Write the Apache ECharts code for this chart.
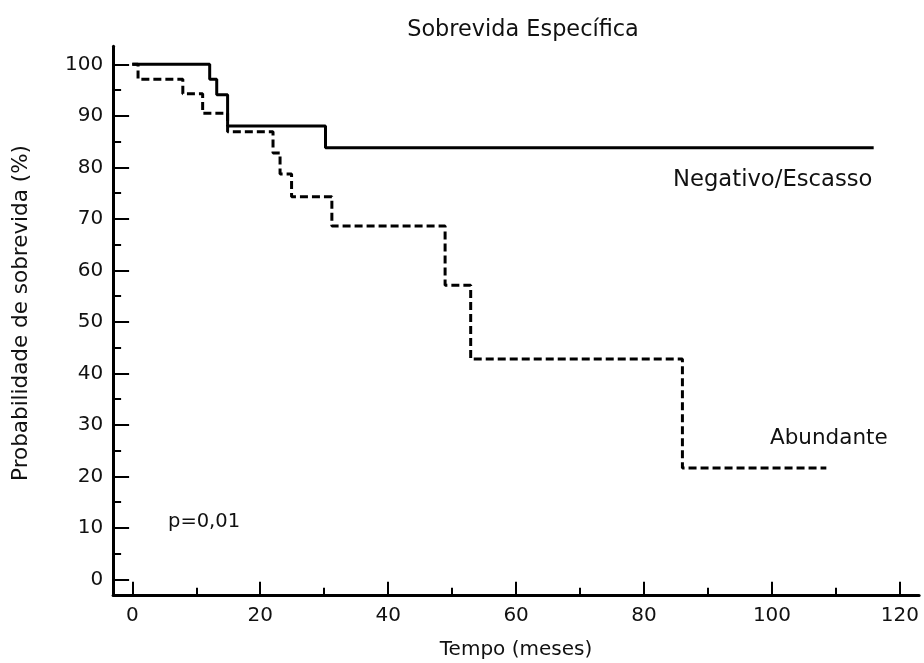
<!DOCTYPE html>
<html>
<head>
<meta charset="utf-8">
<script src="https://cdn.jsdelivr.net/npm/echarts@6/dist/echarts.min.js"></script>
<style>
html,body{margin:0;padding:0;background:#fff;}
#chart{width:924px;height:663px;}
</style>
</head>
<body>
<div id="chart"></div>
<script>
// ---- data ----
var negTimes   = [0, 12.1, 13.2, 14.9, 30.2, 115.9];
var negValues  = [100, 97.1, 94.1, 88.0, 83.8, 83.8];
var abuTimes   = [0, 0.9, 7.9, 11.0, 14.9, 22.0, 23.1, 24.9, 31.2, 48.9, 52.9, 86.0, 108.5];
var abuValues  = [100, 97.1, 94.3, 90.5, 86.9, 82.8, 78.7, 74.3, 68.6, 57.1, 42.8, 21.6, 21.6];
var xTickLabels = [0, 20, 40, 60, 80, 100, 120];
var xMinorTicks = [10, 30, 50, 70, 90, 110];
var yTickLabels = [0, 10, 20, 30, 40, 50, 60, 70, 80, 90, 100];
var yMinorTicks = [5, 15, 25, 35, 45, 55, 65, 75, 85, 95];
var titleText = 'Sobrevida Específica';
var xName = 'Tempo (meses)';
var yName = 'Probabilidade de sobrevida (%)';
var negLabel = 'Negativo/Escasso';
var abuLabel = 'Abundante';
var pLabel = 'p=0,01';

function pairs(t, v) { return t.map(function (x, i) { return [x, v[i]]; }); }

var FONT = 'DejaVu Sans';
var TXT = '#111';
var chart = echarts.init(document.getElementById('chart'));

var option = {
  backgroundColor: '#fff',
  animation: false,
  grid: { left: 113.1, right: 4.9, top: 46.3, bottom: 68.25, containLabel: false },
  xAxis: [{
    type: 'value', min: -3, max: 123, position: 'bottom',
    axisLine: { show: true, onZero: false, lineStyle: { color: '#000', width: 3 } },
    axisTick: { show: true, inside: true, length: 13, lineStyle: { color: '#000', width: 2 }, customValues: xTickLabels },
    axisLabel: { show: true, customValues: xTickLabels, fontSize: 20, fontFamily: FONT, color: TXT, margin: 11 },
    splitLine: { show: false }
  }, {
    type: 'value', min: -3, max: 123, position: 'bottom', offset: 0,
    axisLine: { show: false, onZero: false },
    axisTick: { show: true, inside: true, length: 7, lineStyle: { color: '#000', width: 2 }, customValues: xMinorTicks },
    axisLabel: { show: false },
    splitLine: { show: false }
  }],
  yAxis: [{
    type: 'value', min: -3, max: 103.5, position: 'left',
    axisLine: { show: true, onZero: false, lineStyle: { color: '#000', width: 3 } },
    axisTick: { show: true, inside: true, length: 16, lineStyle: { color: '#000', width: 2 }, customValues: yTickLabels },
    axisLabel: { show: true, customValues: yTickLabels, fontSize: 20, fontFamily: FONT, color: TXT, margin: 10 },
    splitLine: { show: false }
  }, {
    type: 'value', min: -3, max: 103.5, position: 'left', offset: 0,
    axisLine: { show: false, onZero: false },
    axisTick: { show: true, inside: true, length: 8, lineStyle: { color: '#000', width: 2 }, customValues: yMinorTicks },
    axisLabel: { show: false },
    splitLine: { show: false }
  }],
  series: [{
    name: negLabel, type: 'line', step: 'end', xAxisIndex: 0, yAxisIndex: 0,
    data: pairs(negTimes, negValues), symbol: 'none',
    lineStyle: { color: '#000', width: 3 }
  }, {
    name: abuLabel, type: 'line', step: 'end', xAxisIndex: 0, yAxisIndex: 0,
    data: pairs(abuTimes, abuValues), symbol: 'none',
    lineStyle: { color: '#000', width: 3, type: [8, 4] }
  }],
  graphic: [
    { type: 'text', style: { text: titleText, x: 523, y: 30, fontSize: 22.4, fontFamily: FONT, fill: TXT, align: 'center', verticalAlign: 'middle' } },
    { type: 'text', style: { text: xName, x: 516, y: 650, fontSize: 20, fontFamily: FONT, fill: TXT, align: 'center', verticalAlign: 'middle' } },
    { type: 'text', x: 21, y: 313, rotation: Math.PI / 2, style: { text: yName, x: 0, y: 0, fontSize: 21.5, fontFamily: FONT, fill: TXT, align: 'center', verticalAlign: 'middle' } },
    { type: 'text', style: { text: negLabel, x: 673, y: 180, fontSize: 22.7, fontFamily: FONT, fill: TXT, align: 'left', verticalAlign: 'middle' } },
    { type: 'text', style: { text: abuLabel, x: 770, y: 438, fontSize: 21.5, fontFamily: FONT, fill: TXT, align: 'left', verticalAlign: 'middle' } },
    { type: 'text', style: { text: pLabel, x: 168, y: 522, fontSize: 19.5, fontFamily: FONT, fill: TXT, align: 'left', verticalAlign: 'middle' } }
  ]
};
chart.setOption(option);
</script>
</body>
</html>
